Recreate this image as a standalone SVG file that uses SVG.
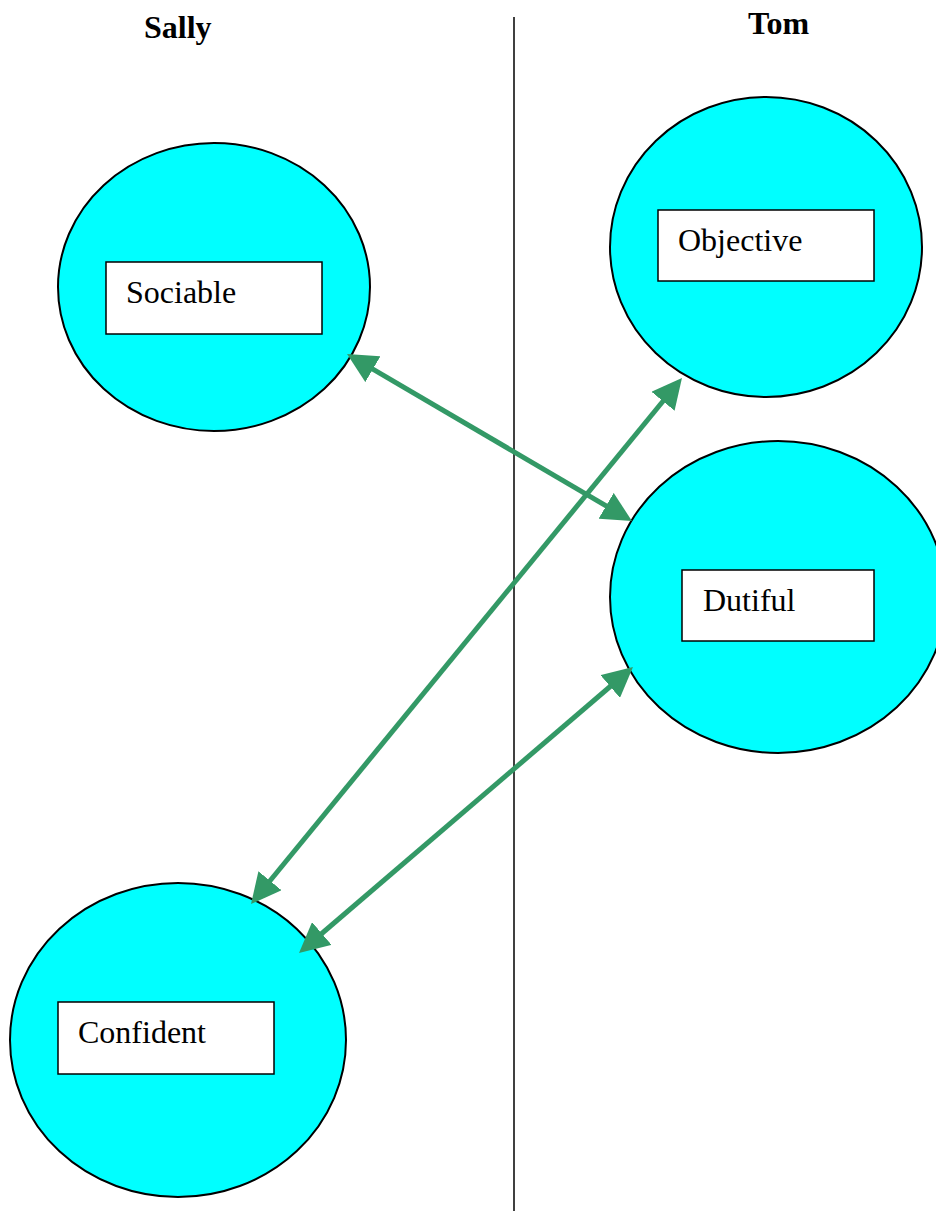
<svg xmlns="http://www.w3.org/2000/svg" width="936" height="1211" viewBox="0 0 936 1211">
<style>
.c{fill:#00ffff;stroke:#000;stroke-width:2}
.b{fill:#fff;stroke:#000;stroke-width:1.5}
.t{font-family:"Liberation Serif",serif;font-size:32px;fill:#000}
.h{font-family:"Liberation Serif",serif;font-size:32px;font-weight:bold;fill:#000}
.a{stroke:#339966;stroke-width:5;fill:none;marker-start:url(#ah);marker-end:url(#ah)}
</style>
<defs>
<marker id="ah" markerUnits="userSpaceOnUse" markerWidth="30" markerHeight="30" refX="10" refY="15" orient="auto-start-reverse" viewBox="0 0 30 30">
<path d="M0,0 L30,15 L0,30 z" fill="#339966"/>
</marker>
</defs>
<rect width="936" height="1211" fill="#fff"/>
<text class="h" x="144" y="38">Sally</text>
<text class="h" x="748" y="34">Tom</text>
<line x1="514" y1="17" x2="514" y2="1211" stroke="#000" stroke-width="1.5"/>
<g id="sociable">
<ellipse class="c" cx="214" cy="287" rx="156" ry="144"/>
<rect class="b" x="106" y="262" width="216" height="72"/>
<text class="t" x="126" y="303">Sociable</text>
</g>
<g id="objective">
<ellipse class="c" cx="766" cy="247" rx="156" ry="150"/>
<rect class="b" x="658" y="210" width="216" height="71"/>
<text class="t" x="678" y="251">Objective</text>
</g>
<g id="dutiful">
<ellipse class="c" cx="778" cy="597" rx="168" ry="156"/>
<rect class="b" x="682" y="570" width="192" height="71"/>
<text class="t" x="703" y="611">Dutiful</text>
</g>
<g id="confident">
<ellipse class="c" cx="178" cy="1040" rx="168" ry="157"/>
<rect class="b" x="58" y="1002" width="216" height="72"/>
<text class="t" x="78" y="1043">Confident</text>
</g>
<g id="connectors">
<line class="a" x1="364.3" y1="364.1" x2="614.7" y2="510.9"/>
<line class="a" x1="669.3" y1="393.5" x2="263.7" y2="888.5"/>
<line class="a" x1="617.8" y1="680" x2="314.2" y2="940"/>
</g>
</svg>
